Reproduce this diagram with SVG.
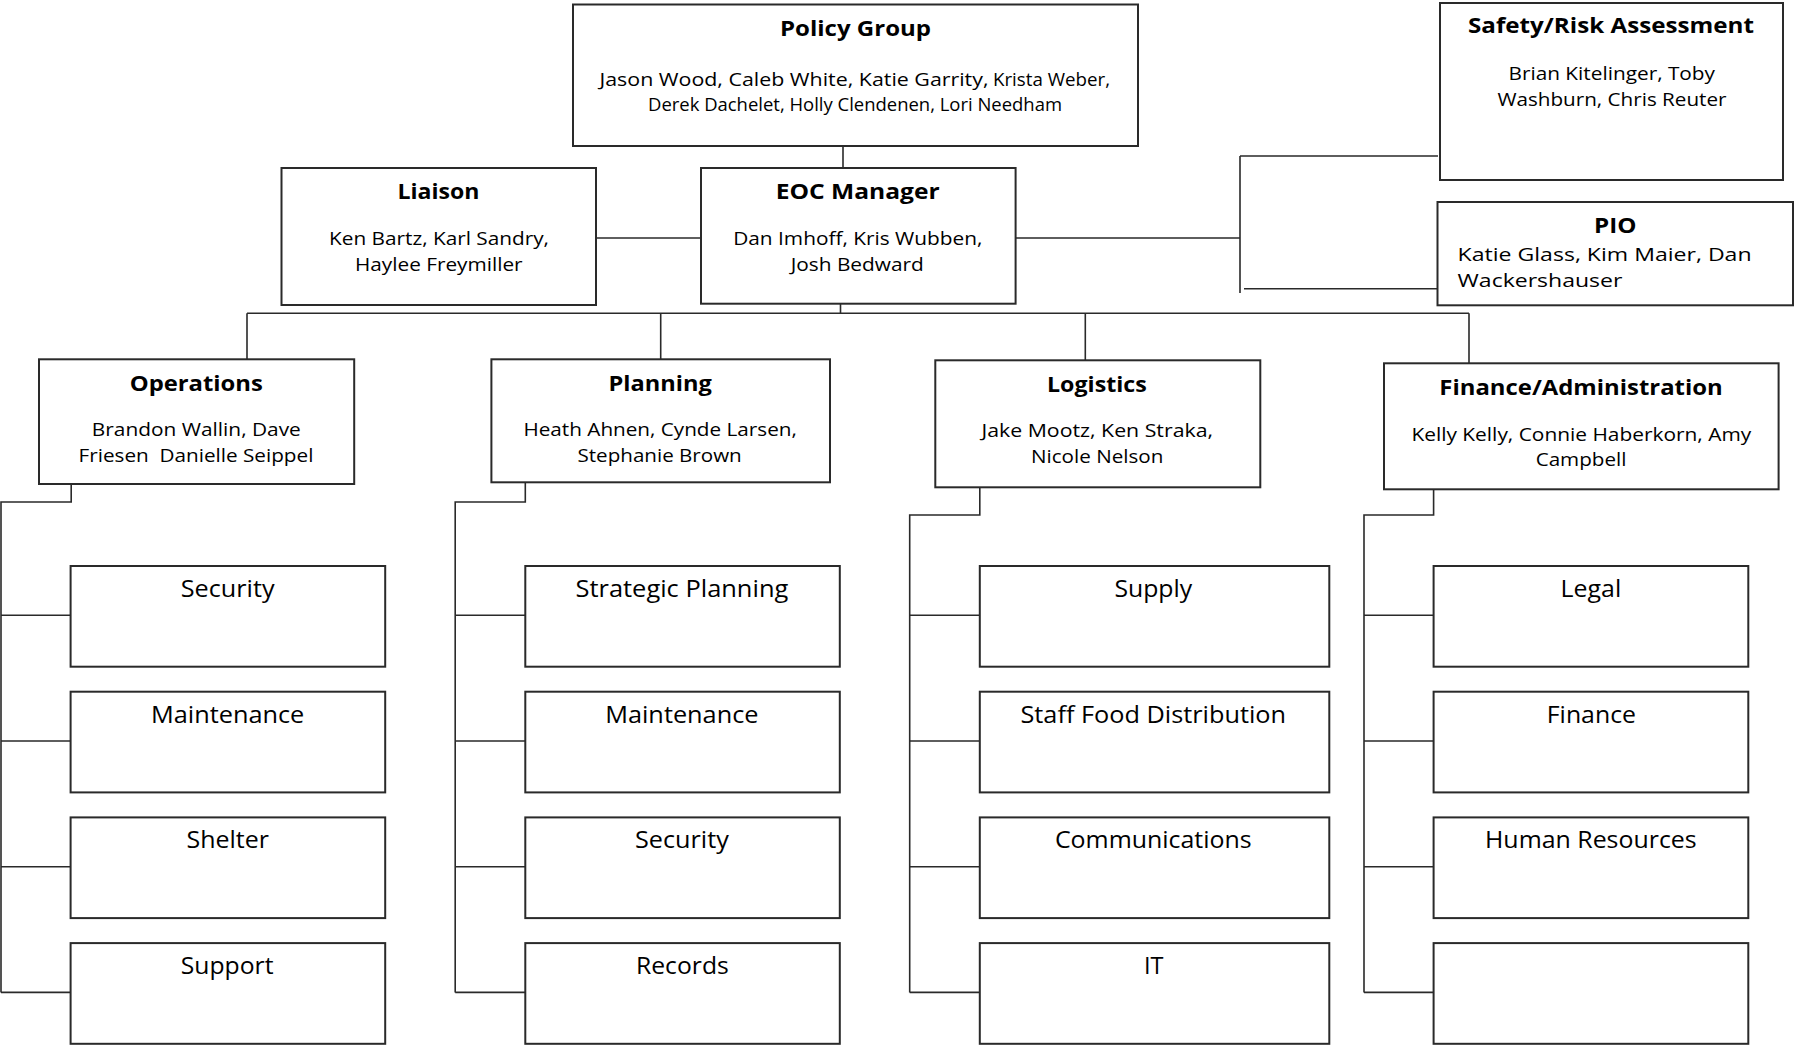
<svg xmlns="http://www.w3.org/2000/svg" width="1794" height="1045" viewBox="0 0 1794 1045">
<style>
.box{fill:#fff;stroke:#2a2a2a;stroke-width:2}
.c{fill:none;stroke:#2a2a2a;stroke-width:1.6}
text{font-family:"Open Sans","Noto Sans","Liberation Sans",sans-serif;fill:#000}
.t{font-weight:bold;font-size:21px}
.n{font-size:17.5px}
.s{font-size:23.6px}
</style>
<rect width="1794" height="1045" fill="#fff"/>
<g id="connectors">
<path class="c" d="M843 138V168"/>
<path class="c" d="M596 238H701"/>
<path class="c" d="M1016 238H1240M1240 156V293M1240 156H1438M1244 288.7H1440"/>
<path class="c" d="M840.5 304V313.3M247 313.3H1469M247 313.3V359M660.7 313.3V359M1085.3 313.3V360M1469 313.3V363"/>
<path class="c" d="M71.2 484V502H1V992.4M1 615.3H70.6M1 741H70.6M1 866.7H70.6M1 992.4H70.6"/>
<path class="c" d="M525.3 482V502H455.2V992.4M455.2 615.3H525.3M455.2 741H525.3M455.2 866.7H525.3M455.2 992.4H525.3"/>
<path class="c" d="M979.8 487V515H909.7V992.4M909.7 615.3H979.8M909.7 741H979.8M909.7 866.7H979.8M909.7 992.4H979.8"/>
<path class="c" d="M1433.6 489V515H1364V992.4M1364 615.3H1433.6M1364 741H1433.6M1364 866.7H1433.6M1364 992.4H1433.6"/>
</g>
<g id="policy">
<rect class="box" x="573" y="4.5" width="565" height="141.5"/>
<text class="t" x="780" y="36" font-size="20" textLength="151" lengthAdjust="spacingAndGlyphs">Policy Group</text>
<text class="n" x="599.5" y="86" textLength="389" lengthAdjust="spacingAndGlyphs">Jason Wood, Caleb White, Katie Garrity,</text>
<text class="n" x="993" y="86" font-size="16" textLength="117" lengthAdjust="spacingAndGlyphs">Krista Weber,</text>
<text class="n" x="648" y="111" font-size="16" textLength="414" lengthAdjust="spacingAndGlyphs">Derek Dachelet, Holly Clendenen, Lori Needham</text>
</g>
<g id="liaison">
<rect class="box" x="281.5" y="168" width="314.5" height="137"/>
<text class="t" x="397.4" y="199.3" textLength="82" lengthAdjust="spacingAndGlyphs">Liaison</text>
<text class="n" x="329" y="245" textLength="220" lengthAdjust="spacingAndGlyphs">Ken Bartz, Karl Sandry,</text>
<text class="n" x="355" y="270.5" textLength="167.6" lengthAdjust="spacingAndGlyphs">Haylee Freymiller</text>
</g>
<g id="eoc">
<rect class="box" x="701" y="168" width="314.6" height="135.7"/>
<text class="t" x="775.7" y="199.3" textLength="164" lengthAdjust="spacingAndGlyphs">EOC Manager</text>
<text class="n" x="733.2" y="245" textLength="249.2" lengthAdjust="spacingAndGlyphs">Dan Imhoff, Kris Wubben,</text>
<text class="n" x="790.7" y="270.5" textLength="133.1" lengthAdjust="spacingAndGlyphs">Josh Bedward</text>
</g>
<g id="safety">
<rect class="box" x="1440" y="3" width="343" height="177"/>
<text class="t" x="1468" y="33.3" textLength="286" lengthAdjust="spacingAndGlyphs">Safety/Risk Assessment</text>
<text class="n" x="1508.5" y="80" font-size="19" textLength="206.5" lengthAdjust="spacingAndGlyphs">Brian Kitelinger, Toby</text>
<text class="n" x="1497.4" y="106" font-size="19" textLength="229.1" lengthAdjust="spacingAndGlyphs">Washburn, Chris Reuter</text>
</g>
<g id="pio">
<rect class="box" x="1437.5" y="202" width="355.5" height="103.3"/>
<text class="t" x="1594" y="233.3" textLength="42.4" lengthAdjust="spacingAndGlyphs">PIO</text>
<text class="n" x="1457.6" y="260.7" font-size="20" textLength="294" lengthAdjust="spacingAndGlyphs">Katie Glass, Kim Maier, Dan</text>
<text class="n" x="1457.6" y="287.3" font-size="20" textLength="164.8" lengthAdjust="spacingAndGlyphs">Wackershauser</text>
</g>
<g id="operations">
<rect class="box" x="39" y="359.3" width="315.2" height="124.7"/>
<text class="t" x="129.7" y="390.7" textLength="133.2" lengthAdjust="spacingAndGlyphs">Operations</text>
<text class="n" x="91.8" y="436" textLength="209" lengthAdjust="spacingAndGlyphs">Brandon Wallin, Dave</text>
<text class="n" x="78.6" y="462" textLength="234.8" lengthAdjust="spacingAndGlyphs" xml:space="preserve">Friesen  Danielle Seippel</text>
</g>
<g id="planning">
<rect class="box" x="491.4" y="359.3" width="338.6" height="123"/>
<text class="t" x="608.5" y="390.7" textLength="103.3" lengthAdjust="spacingAndGlyphs">Planning</text>
<text class="n" x="523.5" y="436" textLength="273.3" lengthAdjust="spacingAndGlyphs">Heath Ahnen, Cynde Larsen,</text>
<text class="n" x="577.5" y="462" textLength="164.2" lengthAdjust="spacingAndGlyphs">Stephanie Brown</text>
</g>
<g id="logistics">
<rect class="box" x="935.3" y="360.3" width="325" height="127"/>
<text class="t" x="1047" y="391.7" textLength="99.8" lengthAdjust="spacingAndGlyphs">Logistics</text>
<text class="n" x="981.5" y="437.3" textLength="231.5" lengthAdjust="spacingAndGlyphs">Jake Mootz, Ken Straka,</text>
<text class="n" x="1031" y="463.3" textLength="132.3" lengthAdjust="spacingAndGlyphs">Nicole Nelson</text>
</g>
<g id="finance-admin">
<rect class="box" x="1384" y="363.3" width="394.6" height="126"/>
<text class="t" x="1439.3" y="395" textLength="283.4" lengthAdjust="spacingAndGlyphs">Finance/Administration</text>
<text class="n" x="1411.4" y="440.7" textLength="339.8" lengthAdjust="spacingAndGlyphs">Kelly Kelly, Connie Haberkorn, Amy</text>
<text class="n" x="1535.7" y="466" textLength="90.7" lengthAdjust="spacingAndGlyphs">Campbell</text>
</g>
<g id="ops-security"><rect class="box" x="70.6" y="566" width="314.6" height="100.7"/><text class="s" x="180.8" y="597" textLength="93.8" lengthAdjust="spacingAndGlyphs">Security</text></g>
<g id="ops-maintenance"><rect class="box" x="70.6" y="691.7" width="314.6" height="100.7"/><text class="s" x="151" y="722.7" textLength="153.3" lengthAdjust="spacingAndGlyphs">Maintenance</text></g>
<g id="ops-shelter"><rect class="box" x="70.6" y="817.4" width="314.6" height="100.7"/><text class="s" x="186.5" y="848.4" textLength="82.4" lengthAdjust="spacingAndGlyphs">Shelter</text></g>
<g id="ops-support"><rect class="box" x="70.6" y="943.1" width="314.6" height="100.7"/><text class="s" x="180.8" y="974.1" textLength="92.7" lengthAdjust="spacingAndGlyphs">Support</text></g>
<g id="plan-strategic"><rect class="box" x="525.3" y="566" width="314.5" height="100.7"/><text class="s" x="575.5" y="597" textLength="212.8" lengthAdjust="spacingAndGlyphs">Strategic Planning</text></g>
<g id="plan-maintenance"><rect class="box" x="525.3" y="691.7" width="314.5" height="100.7"/><text class="s" x="605.2" y="722.7" textLength="153.3" lengthAdjust="spacingAndGlyphs">Maintenance</text></g>
<g id="plan-security"><rect class="box" x="525.3" y="817.4" width="314.5" height="100.7"/><text class="s" x="635" y="848.4" textLength="93.8" lengthAdjust="spacingAndGlyphs">Security</text></g>
<g id="plan-records"><rect class="box" x="525.3" y="943.1" width="314.5" height="100.7"/><text class="s" x="636" y="974.1" textLength="92.8" lengthAdjust="spacingAndGlyphs">Records</text></g>
<g id="log-supply"><rect class="box" x="979.8" y="566" width="349.5" height="100.7"/><text class="s" x="1114.4" y="597" textLength="77.8" lengthAdjust="spacingAndGlyphs">Supply</text></g>
<g id="log-food"><rect class="box" x="979.8" y="691.7" width="349.5" height="100.7"/><text class="s" x="1020.5" y="722.7" textLength="265.5" lengthAdjust="spacingAndGlyphs">Staff Food Distribution</text></g>
<g id="log-comms"><rect class="box" x="979.8" y="817.4" width="349.5" height="100.7"/><text class="s" x="1054.9" y="848.4" textLength="196.8" lengthAdjust="spacingAndGlyphs">Communications</text></g>
<g id="log-it"><rect class="box" x="979.8" y="943.1" width="349.5" height="100.7"/><text class="s" x="1144" y="974.1" textLength="19.5" lengthAdjust="spacingAndGlyphs">IT</text></g>
<g id="fin-legal"><rect class="box" x="1433.6" y="566" width="314.7" height="100.7"/><text class="s" x="1560.6" y="597" textLength="60.6" lengthAdjust="spacingAndGlyphs">Legal</text></g>
<g id="fin-finance"><rect class="box" x="1433.6" y="691.7" width="314.7" height="100.7"/><text class="s" x="1546.8" y="722.7" textLength="89.2" lengthAdjust="spacingAndGlyphs">Finance</text></g>
<g id="fin-hr"><rect class="box" x="1433.6" y="817.4" width="314.7" height="100.7"/><text class="s" x="1485" y="848.4" textLength="211.7" lengthAdjust="spacingAndGlyphs">Human Resources</text></g>
<g id="fin-empty"><rect class="box" x="1433.6" y="943.1" width="314.7" height="100.7"/></g>
</svg>
